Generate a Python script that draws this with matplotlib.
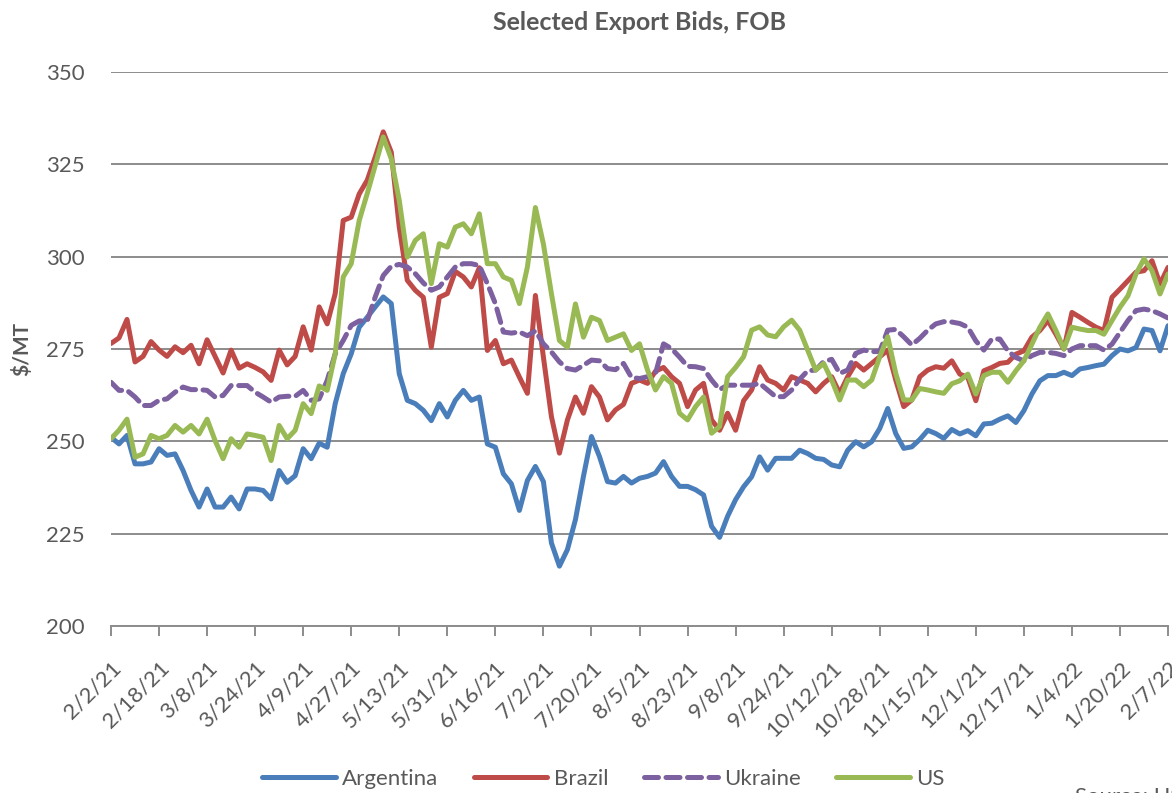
import matplotlib
matplotlib.use("Agg")
import matplotlib.pyplot as plt
import pandas as pd
import numpy as np

plt.rcParams['font.family'] = ['Lato', 'DejaVu Sans']

# Business-day calendar; series sampled every second business day
all_days = pd.bdate_range("2021-02-02", "2022-02-07")
sample_days = all_days[::2]

argentina = [251.1, 249.3, 251.6, 243.9, 243.9, 244.4, 248.0, 246.2, 246.6, 242.1,
             236.7, 232.2, 237.1, 232.2, 232.2, 234.9, 231.7, 237.1, 237.1, 236.7,
             234.4, 242.1, 238.9, 240.7, 248.0, 245.3, 249.5, 248.4, 260.2, 268.3,
             273.7, 280.9, 283.6, 286.4, 289.1, 287.3, 268.3, 261.1, 260.2, 258.4,
             255.6, 260.2, 256.6, 261.1, 263.8, 261.1, 262.0, 249.3, 248.4, 241.2,
             238.5, 231.3, 239.4, 243.2, 239.1, 222.5, 216.2, 220.7, 228.8, 240.5,
             251.3, 245.9, 239.1, 238.7, 240.5, 238.7, 240.0, 240.5, 241.4, 244.5,
             240.5, 237.8, 237.8, 236.9, 235.5, 227.0, 224.0, 229.7, 234.2, 237.7,
             240.4, 245.8, 242.2, 245.4, 245.4, 245.4, 247.6, 246.7, 245.4, 245.1,
             243.6, 243.1, 247.6, 249.9, 248.5, 249.9, 253.5, 258.9, 252.1, 248.1,
             248.5, 250.5, 253.0, 252.1, 250.8, 253.2, 252.0, 252.9, 251.5, 254.7,
             254.9, 256.0, 256.9, 255.1, 258.3, 262.8, 266.4, 267.8, 267.8, 268.7,
             267.8, 269.6, 270.0, 270.5, 270.9, 273.2, 275.0, 274.5, 275.4, 280.4,
             280.0, 274.5, 281.3]

brazil = [276.5, 278.0, 283.0, 271.5, 273.0, 277.0, 274.7, 273.0, 275.6, 274.0,
          276.0, 271.0, 277.5, 273.0, 268.5, 274.7, 269.8, 271.0, 270.0, 268.8,
          266.5, 274.7, 270.7, 273.0, 281.0, 274.7, 286.4, 281.8, 290.0, 309.8,
          310.7, 317.0, 320.7, 327.0, 333.8, 328.3, 308.0, 293.6, 290.9, 289.0,
          275.5, 289.0, 290.0, 296.0, 294.5, 291.8, 297.0, 274.6, 277.3, 271.0,
          272.0, 267.4, 263.0, 289.5, 272.8, 256.7, 246.8, 255.8, 262.0, 257.6,
          264.8, 262.0, 255.8, 258.5, 260.0, 265.7, 266.6, 265.7, 269.0, 270.0,
          267.5, 265.7, 259.4, 263.9, 265.7, 255.8, 253.0, 257.6, 253.0, 261.0,
          263.9, 270.2, 266.6, 265.7, 263.9, 267.5, 266.6, 265.7, 263.4, 265.7,
          267.5, 263.0, 267.5, 271.1, 269.3, 271.1, 272.9, 274.7, 266.6, 259.4,
          261.2, 267.5, 269.3, 270.2, 269.8, 271.8, 268.2, 267.3, 261.0, 269.1,
          270.0, 271.1, 271.4, 273.6, 274.5, 278.2, 280.0, 282.7, 279.0, 275.0,
          284.9, 283.6, 282.2, 280.9, 280.0, 289.0, 291.2, 293.5, 295.8, 296.2,
          298.9, 292.6, 297.1]

ukraine = [266.0, 263.8, 263.8, 262.0, 259.7, 259.7, 261.1, 261.5, 263.3, 264.7,
           264.0, 264.0, 263.8, 262.0, 262.4, 265.1, 265.1, 265.1, 263.3, 262.0,
           260.6, 262.0, 262.2, 262.2, 263.8, 261.1, 261.5, 266.5, 273.7, 277.3,
           281.4, 282.6, 282.6, 289.1, 294.9, 297.4, 297.9, 297.2, 295.4, 292.9,
           290.9, 291.8, 294.5, 297.2, 298.1, 298.1, 297.6, 292.7, 287.3, 279.6,
           279.3, 279.6, 278.6, 279.9, 276.4, 274.2, 271.5, 269.7, 269.3, 270.6,
           272.0, 271.8, 269.7, 269.4, 271.1, 267.3, 267.0, 267.5, 268.4, 276.4,
           275.1, 272.8, 270.3, 270.2, 269.7, 266.6, 264.0, 265.2, 265.2, 265.2,
           265.2, 265.7, 263.9, 262.1, 262.1, 263.9, 266.8, 269.1, 269.3, 271.6,
           272.2, 268.4, 269.3, 273.8, 274.7, 274.3, 274.3, 280.1, 280.3, 278.3,
           276.1, 277.9, 280.1, 281.8, 282.4, 282.3, 281.9, 280.9, 277.2, 274.7,
           277.7, 277.7, 274.5, 272.7, 271.8, 273.2, 274.1, 274.1, 273.8, 273.2,
           275.0, 275.9, 275.9, 275.9, 274.7, 276.3, 279.5, 282.7, 285.4, 285.8,
           285.4, 284.5, 283.4]

us = [250.7, 253.0, 256.0, 245.7, 246.6, 251.6, 250.7, 251.6, 254.3, 252.5,
      254.3, 252.0, 256.0, 250.2, 245.3, 250.7, 248.4, 252.0, 251.6, 251.1,
      244.8, 254.3, 250.7, 253.0, 260.2, 257.5, 265.0, 263.8, 273.7, 294.5,
      298.1, 309.8, 317.1, 324.7, 332.4, 326.5, 315.2, 299.9, 304.4, 306.2,
      292.7, 303.5, 302.6, 308.0, 308.9, 306.2, 311.6, 298.1, 298.1, 294.5,
      293.6, 287.3, 297.2, 313.3, 303.4, 290.0, 277.3, 275.5, 287.2, 278.2,
      283.6, 282.7, 277.3, 278.2, 279.1, 274.6, 276.4, 269.3, 263.9, 267.5,
      265.7, 257.6, 255.8, 259.4, 262.0, 252.2, 254.0, 267.5, 270.0, 272.9,
      280.1, 281.0, 278.8, 278.3, 281.0, 282.8, 280.1, 274.7, 269.3, 271.1,
      266.6, 261.2, 266.6, 266.6, 264.8, 266.6, 272.9, 278.3, 268.4, 261.2,
      261.2, 264.3, 263.9, 263.4, 263.0, 265.6, 266.4, 268.2, 262.8, 267.8,
      268.7, 268.7, 266.0, 269.1, 271.8, 276.3, 280.9, 284.5, 280.0, 275.0,
      280.9, 280.4, 280.0, 280.0, 279.0, 282.7, 286.3, 289.4, 295.3, 299.4,
      296.2, 289.9, 295.3]

series = {
    "Argentina": (argentina, "#4A7EBB", "-"),
    "Brazil": (brazil, "#BE4B48", "-"),
    "Ukraine": (ukraine, "#7D60A0", (0, (2.8, 1.5))),
    "US": (us, "#98B954", "-"),
}

tick_step = 12
tick_dates = all_days[::tick_step]
tick_labels = [f"{d.month}/{d.day}/{d.strftime('%y')}" for d in tick_dates]

day_index = {d: i for i, d in enumerate(all_days)}
xpos = [day_index[d] for d in sample_days]
tick_pos = [day_index[d] for d in tick_dates]

fig = plt.figure(figsize=(11.72, 7.93), dpi=100)
ax = fig.add_axes([0.0947, 0.2106, 0.9019, 0.6986])

grey_text = "#595959"
for name, (vals, col, ls) in series.items():
    ax.plot(xpos, vals, color=col, lw=3.6, ls=ls, label=name,
            solid_joinstyle="round", solid_capstyle="round",
            dash_capstyle="round")

ax.set_xlim(0, len(all_days) - 1)
ax.set_ylim(200, 350)
ax.set_yticks([200, 225, 250, 275, 300, 325, 350])
ax.yaxis.grid(True, color="#8c8c8c", lw=1.4)
ax.set_axisbelow(True)
for s in ["top", "right", "left"]:
    ax.spines[s].set_visible(False)
ax.spines["bottom"].set_color("#8c8c8c")
ax.spines["bottom"].set_linewidth(1.4)
ax.tick_params(axis="y", length=0, labelsize=16, labelcolor=grey_text, pad=19)
ax.set_xticks(tick_pos)
ax.set_xticklabels(tick_labels, rotation=45, ha="right", rotation_mode="anchor",
                   fontsize=16, color=grey_text)
ax.tick_params(axis="x", direction="out", length=7, width=1.4, color="#8c8c8c", pad=16)

ax.set_ylabel("$/MT", fontsize=15, fontweight="bold", color=grey_text, labelpad=10)
ax.set_title("Selected Export Bids, FOB", fontsize=18, fontweight="bold",
             color=grey_text, pad=30)

handles, labels = ax.get_legend_handles_labels()
fig.legend(handles, labels, loc="center", bbox_to_anchor=(0.515, 0.018), ncol=4,
           frameon=False, fontsize=16, handlelength=3.3, columnspacing=1.6,
           handletextpad=0.3, labelcolor=grey_text)

fig.text(0.917, 0.007, "Source: USDA", fontsize=16, color=grey_text, va="top", ha="left")

fig.savefig("out.png", dpi=100)
